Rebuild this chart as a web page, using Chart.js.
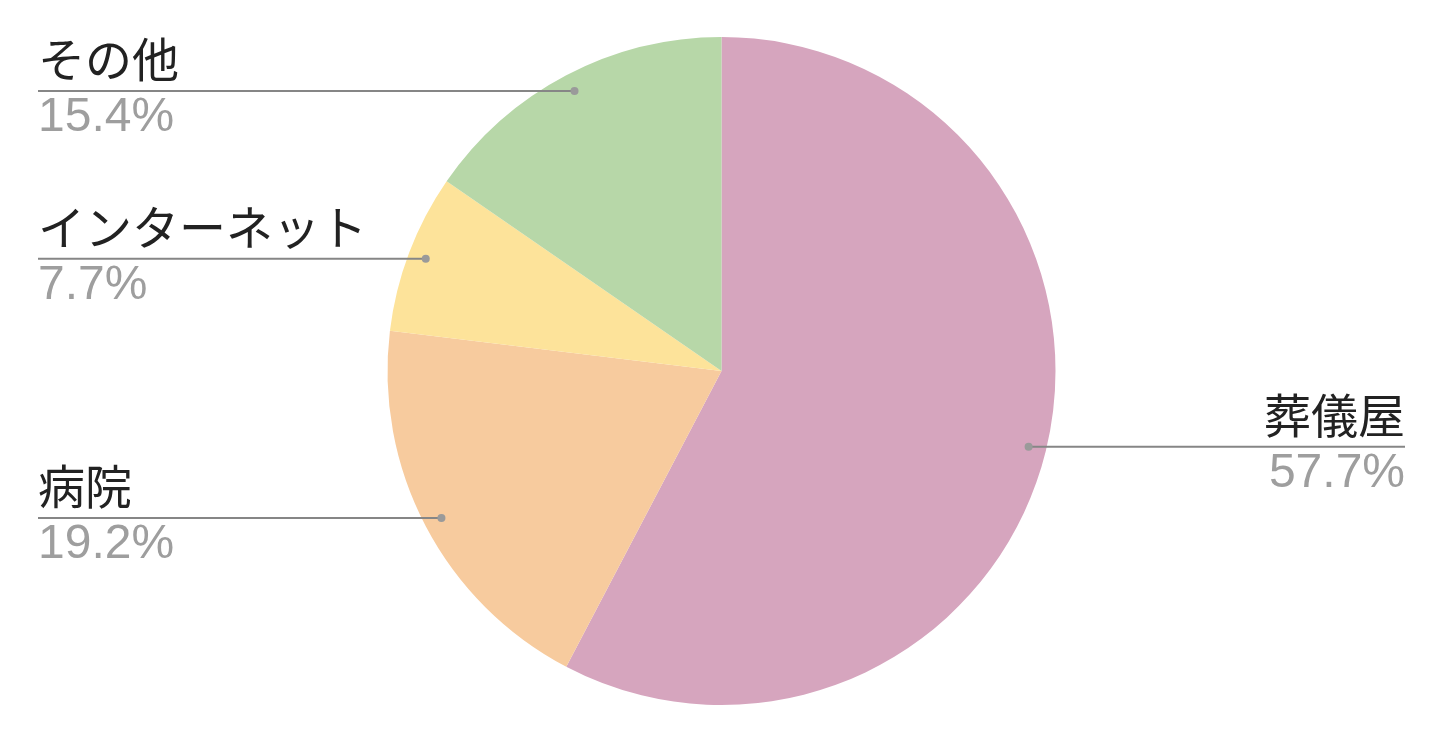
<!DOCTYPE html>
<html>
<head>
<meta charset="utf-8">
<script src="https://cdn.jsdelivr.net/npm/chart.js@4"></script>
<style>
  html, body { margin: 0; padding: 0; background: #fff; }
  #wrap { width: 1443px; height: 742px; }
</style>
</head>
<body>
<div id="wrap"><canvas id="pie-chart"></canvas></div>
<script>
const categories = ['葬儀屋', '病院', 'インターネット', 'その他'];
const counts = [15, 5, 2, 4];
const percentLabels = ['57.7%', '19.2%', '7.7%', '15.4%'];
const sliceColors = ['#D6A5BE', '#F7CB9E', '#FDE39A', '#B7D7A8'];

// leader lines with name above and share below
const leaderLabels = {
  id: 'leaderLabels',
  afterDraw(chart) {
    const ctx = chart.ctx;
    const arcs = chart.getDatasetMeta(0).data;
    const leftX = 38;
    const rightX = 1405;

    arcs.forEach((arc, i) => {
      const mid = (arc.startAngle + arc.endAngle) / 2;
      const r = arc.outerRadius * 0.947;
      const px = arc.x + Math.cos(mid) * r;
      const py = arc.y + Math.sin(mid) * r;
      const onRight = Math.cos(mid) > 0;
      const endX = onRight ? rightX : leftX;

      ctx.save();
      ctx.strokeStyle = '#868686';
      ctx.lineWidth = 2;
      ctx.beginPath();
      ctx.moveTo(px, py);
      ctx.lineTo(endX, py);
      ctx.stroke();

      ctx.fillStyle = '#9a9a9a';
      ctx.beginPath();
      ctx.arc(px, py, 4, 0, Math.PI * 2);
      ctx.fill();

      ctx.textAlign = onRight ? 'right' : 'left';
      ctx.textBaseline = 'alphabetic';
      ctx.fillStyle = '#222';
      ctx.font = "47px 'Noto Sans CJK JP'";
      ctx.fillText(categories[i], endX, py - 14);

      ctx.fillStyle = '#9e9e9e';
      ctx.font = "48px 'Liberation Sans', Arial, sans-serif";
      ctx.fillText(percentLabels[i], endX, py + 40);
      ctx.restore();
    });
  }
};

new Chart(document.getElementById('pie-chart'), {
  type: 'pie',
  data: {
    labels: categories,
    datasets: [{
      data: counts,
      backgroundColor: sliceColors,
      borderWidth: 0
    }]
  },
  options: {
    responsive: true,
    maintainAspectRatio: false,
    animation: false,
    layout: { padding: { top: 37, bottom: 37 } },
    plugins: {
      legend: { display: false },
      tooltip: { enabled: false }
    }
  },
  plugins: [leaderLabels]
});
</script>
</body>
</html>
